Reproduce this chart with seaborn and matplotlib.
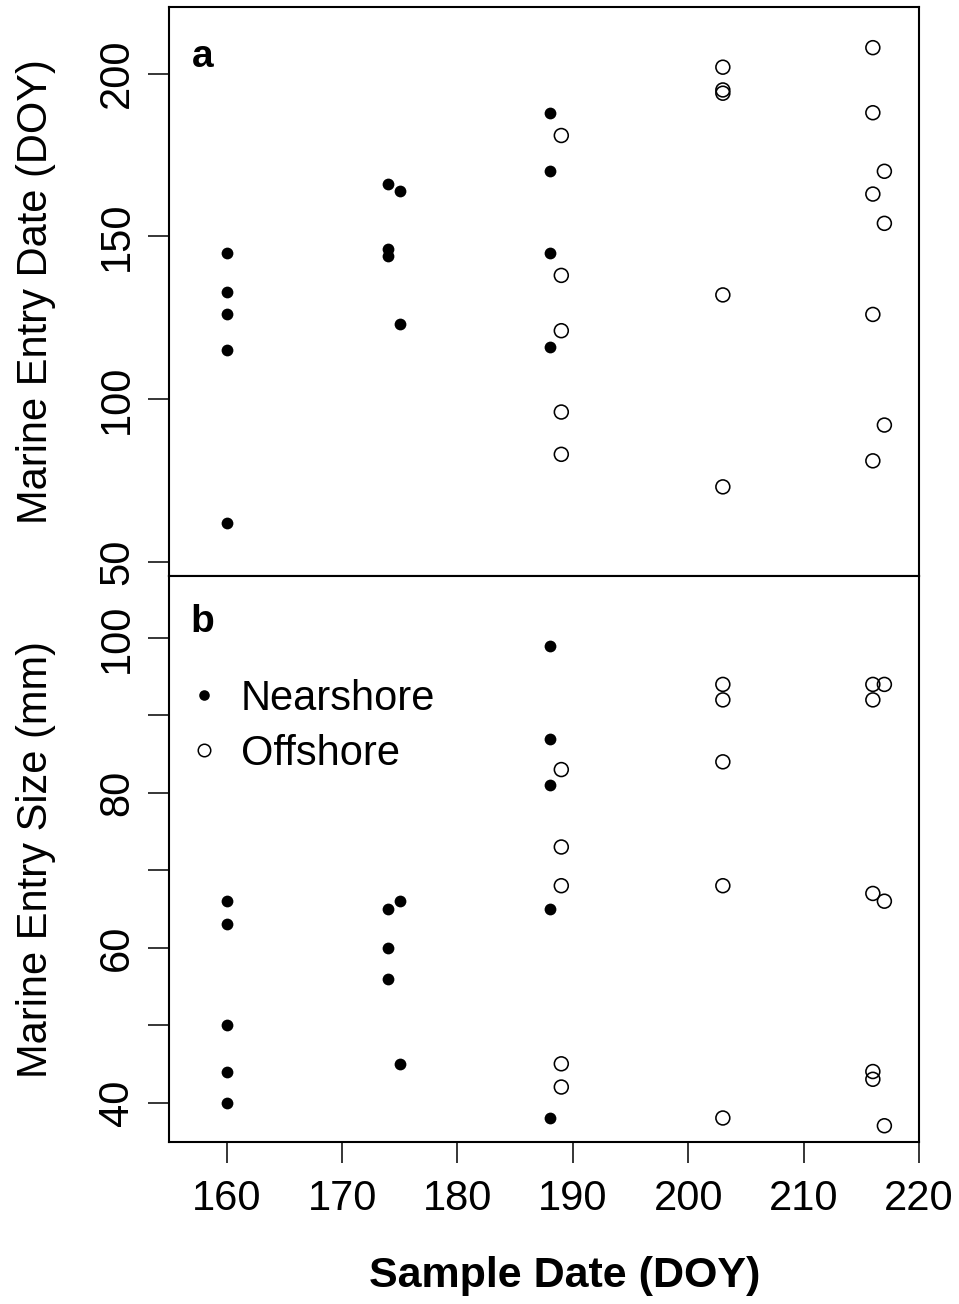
import numpy as np
import pandas as pd
import matplotlib
matplotlib.use("Agg")
import matplotlib.pyplot as plt
import seaborn as sns
from matplotlib.lines import Line2D

# ---------------- data ----------------
# Panel a: Marine entry date (DOY) vs sample date (DOY)
a_near_x = [160, 160, 160, 160, 160, 174, 174, 174, 175, 175, 188, 188, 188, 188]
a_near_y = [145, 133, 126, 115, 62, 166, 146, 144, 164, 123, 188, 170, 145, 116]
a_off_x = [189, 189, 189, 189, 189, 203, 203, 203, 203, 203,
           216, 216, 216, 216, 216, 217, 217, 217]
a_off_y = [181, 138, 121, 96, 83, 202, 195, 194, 132, 73,
           208, 188, 163, 126, 81, 170, 154, 92]

# Panel b: Marine entry size (mm) vs sample date (DOY)
b_near_x = [160, 160, 160, 160, 160, 174, 174, 174, 175, 175, 188, 188, 188, 188, 188]
b_near_y = [66, 63, 50, 44, 40, 65, 60, 56, 66, 45, 99, 87, 81, 65, 38]
b_off_x = [189, 189, 189, 189, 189, 203, 203, 203, 203, 203,
           216, 216, 216, 216, 216, 217, 217, 217]
b_off_y = [83, 73, 68, 45, 42, 94, 92, 84, 68, 38,
           94, 92, 67, 44, 43, 94, 66, 37]

x_ticks = [160, 170, 180, 190, 200, 210, 220]
a_yticks = [50, 100, 150, 200]
b_yticks = [40, 50, 60, 70, 80, 90, 100]
b_ylabels = ["40", "", "60", "", "80", "", "100"]
legend_labels = ["Nearshore", "Offshore"]

# ---------------- style ----------------
sns.set_theme(style="white")
plt.rcParams["font.family"] = ["Liberation Sans", "DejaVu Sans"]
plt.rcParams["axes.edgecolor"] = "black"
plt.rcParams["xtick.color"] = "black"
plt.rcParams["ytick.color"] = "black"
plt.rcParams["text.color"] = "black"
plt.rcParams["axes.labelcolor"] = "black"

W, H = 959, 1304
fig = plt.figure(figsize=(W / 100, H / 100), dpi=100)
L, Rr = 169 / W, 919 / W
axa = fig.add_axes([L, 1 - 576 / H, Rr - L, (576 - 7) / H])
axb = fig.add_axes([L, 1 - 1142 / H, Rr - L, (1142 - 576) / H])

FS_TICK = 30
FS_LAB = 30


def panel(ax, nx, ny, ox, oy):
    dn = pd.DataFrame({"x": nx, "y": ny})
    do = pd.DataFrame({"x": ox, "y": oy})
    sns.scatterplot(data=dn, x="x", y="y", ax=ax, color="black", s=72,
                    linewidth=0, marker="o", zorder=3)
    sns.scatterplot(data=do, x="x", y="y", ax=ax, color="black", s=100,
                    marker="o", zorder=3)
    coll = ax.collections[-1]
    coll.set_facecolor("none")
    coll.set_edgecolor("black")
    coll.set_linewidth(1.15)
    for sp in ax.spines.values():
        sp.set_linewidth(1.5)
        sp.set_color("black")
    ax.set_xlim(155, 220)
    ax.tick_params(axis="both", direction="out", length=15, width=1.1,
                   labelsize=FS_TICK, left=True, bottom=True, colors="black")
    ax.tick_params(axis="y", pad=8)
    ax.tick_params(axis="x", pad=12)


panel(axa, a_near_x, a_near_y, a_off_x, a_off_y)
panel(axb, b_near_x, b_near_y, b_off_x, b_off_y)

# panel a axes
axa.set_ylim(45.6, 220.5)
axa.set_yticks(a_yticks)
axa.set_yticklabels([str(v) for v in a_yticks])
axa.set_xticks(x_ticks)
axa.tick_params(axis="x", bottom=False, labelbottom=False)
axa.set_xlabel("")
axa.set_ylabel("Marine Entry Date (DOY)", fontsize=FS_LAB)
axa.yaxis.set_label_coords(-0.151, 0.5)

# panel b axes
axb.set_ylim(34.9, 108.0)
axb.set_yticks(b_yticks)
axb.set_yticklabels(b_ylabels)
axb.set_xticks(x_ticks)
axb.set_xticklabels([str(v) for v in x_ticks])
axb.set_xlabel("")
axb.set_ylabel("Marine Entry Size (mm)", fontsize=FS_LAB)
axb.yaxis.set_label_coords(-0.151, 0.5)

for ax in (axa, axb):
    plt.setp(ax.get_yticklabels(), rotation=90, va="center")

# panel letters
axa.text(0.045, 0.8946, "a", transform=axa.transAxes, fontsize=28,
         fontweight="bold", ha="center", va="baseline")
axb.text(0.045, 0.901, "b", transform=axb.transAxes, fontsize=28,
         fontweight="bold", ha="center", va="baseline")

# legend
handles = [
    Line2D([], [], linestyle="none", marker="o", markersize=7.6,
           markerfacecolor="black", markeredgewidth=0, color="black"),
    Line2D([], [], linestyle="none", marker="o", markersize=9.0,
           markerfacecolor="none", markeredgecolor="black",
           markeredgewidth=1.1),
]
axb.legend(handles, legend_labels, loc="upper left",
           bbox_to_anchor=(0.0244, 0.818), frameon=False, fontsize=30,
           handlelength=0.8, handletextpad=0.48, labelspacing=0.36,
           borderpad=0, borderaxespad=0)

# x label
fig.text(565 / W, 1 - 1287 / H, "Sample Date (DOY)", fontsize=31,
         fontweight="bold", ha="center", va="baseline")

fig.savefig("out.png", dpi=100)
